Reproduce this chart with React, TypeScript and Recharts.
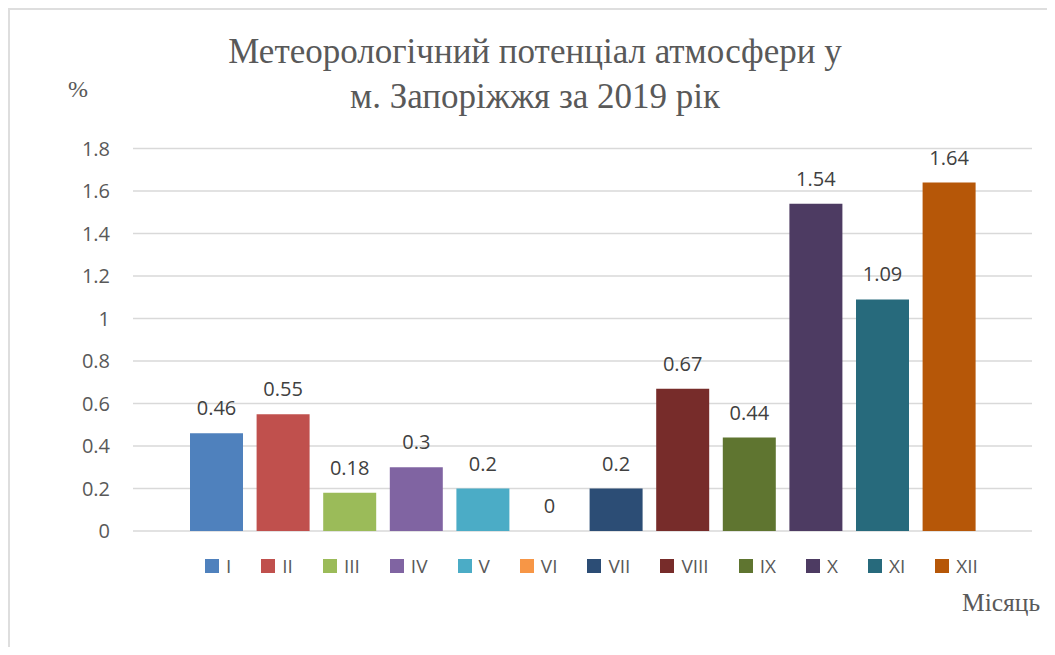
import React from "react";
import {
  Bar,
  BarChart,
  CartesianGrid,
  LabelList,
  Legend,
  XAxis,
  YAxis,
} from "recharts";

const months = ["I", "II", "III", "IV", "V", "VI", "VII", "VIII", "IX", "X", "XI", "XII"];
const values = [0.46, 0.55, 0.18, 0.3, 0.2, 0, 0.2, 0.67, 0.44, 1.54, 1.09, 1.64];
const colors = [
  "#4F81BD",
  "#C0504D",
  "#9BBB59",
  "#8064A2",
  "#4BACC6",
  "#F79646",
  "#2C4D75",
  "#772C2A",
  "#5F7530",
  "#4D3B62",
  "#276A7C",
  "#B65708",
];
const yTicks = [0, 0.2, 0.4, 0.6, 0.8, 1, 1.2, 1.4, 1.6, 1.8];

const titleLines = ["Метеорологічний потенціал атмосфери у", "м. Запоріжжя за 2019 рік"];
const yUnit = "%";
const xTitle = "Місяць";

// one category, twelve series (like the Excel source)
const row: Record<string, number | string> = { name: "2019" };
months.forEach((m, i) => {
  row[m] = values[i];
});
const data = [row];

const sans = "'Open Sans', 'Liberation Sans', sans-serif";
const serif = "'Liberation Serif', 'Times New Roman', serif";

// custom label; y is taken from the value baseline so that the "0" sits right too
const ValueLabel = (props: any) => {
  const { x, y, width, height, value } = props;
  if (value === undefined || value === null) return null;
  const top = Number(y) + (Number(value) === 0 ? Number(height) : 0);
  return (
    <text
      x={Number(x) + Number(width) / 2}
      y={top - 18}
      textAnchor="middle"
      fill="#404040"
      fontSize={20}
      fontFamily={sans}
    >
      {String(value)}
    </text>
  );
};

const LegendContent = () => (
  <div
    style={{
      display: "flex",
      alignItems: "center",
      paddingLeft: 195,
      fontFamily: sans,
      fontSize: 19,
      color: "#595959",
      lineHeight: "20px",
    }}
  >
    {months.map((m, i) => (
      <div key={m} style={{ display: "flex", alignItems: "center", marginRight: 30 }}>
        <span
          style={{ display: "inline-block", width: 14, height: 14, background: colors[i], marginRight: 7 }}
        />
        <span>{m}</span>
      </div>
    ))}
  </div>
);

const App = () => {
  return (
    <div
      style={{
        width: 1037,
        height: 637,
        borderTop: "2px solid #dedede",
        borderLeft: "2px solid #dedede",
        background: "#fff",
      }}
    >
      <BarChart
        width={1037}
        height={637}
        data={data}
        margin={{ top: 138.5, right: 15, bottom: 116, left: 0 }}
        barSize={53}
        barGap={13.6}
      >
        <CartesianGrid vertical={false} stroke="#d9d9d9" strokeWidth={1.5} />
        <XAxis dataKey="name" hide />
        <YAxis
          domain={[0, 1.8]}
          ticks={yTicks}
          width={123}
          axisLine={false}
          tickLine={false}
          tickSize={0}
          tickMargin={23}
          tick={{ fill: "#595959", fontSize: 20, fontFamily: sans }}
        />
        <Legend
          verticalAlign="middle"
          align="center"
          wrapperStyle={{ top: 546, left: 0, width: 1037 }}
          content={<LegendContent />}
        />
        {months.map((m, i) => (
          <Bar
            key={m}
            dataKey={m}
            fill={colors[i]}
            minPointSize={0.01}
            isAnimationActive={false}
          >
            <LabelList dataKey={m} content={ValueLabel} />
          </Bar>
        ))}
        <text
          x={525}
          y={53}
          textAnchor="middle"
          fill="#595959"
          fontSize={35}
          fontFamily={serif}
        >
          {titleLines[0]}
        </text>
        <text
          x={525}
          y={98}
          textAnchor="middle"
          fill="#595959"
          fontSize={35}
          fontFamily={serif}
        >
          {titleLines[1]}
        </text>
        <text x={58} y={87} fill="#595959" fontSize={24} fontFamily={serif}>
          {yUnit}
        </text>
        <text x={952} y={601} fill="#595959" fontSize={25.5} fontFamily={serif}>
          {xTitle}
        </text>
      </BarChart>
    </div>
  );
};

export default App;
